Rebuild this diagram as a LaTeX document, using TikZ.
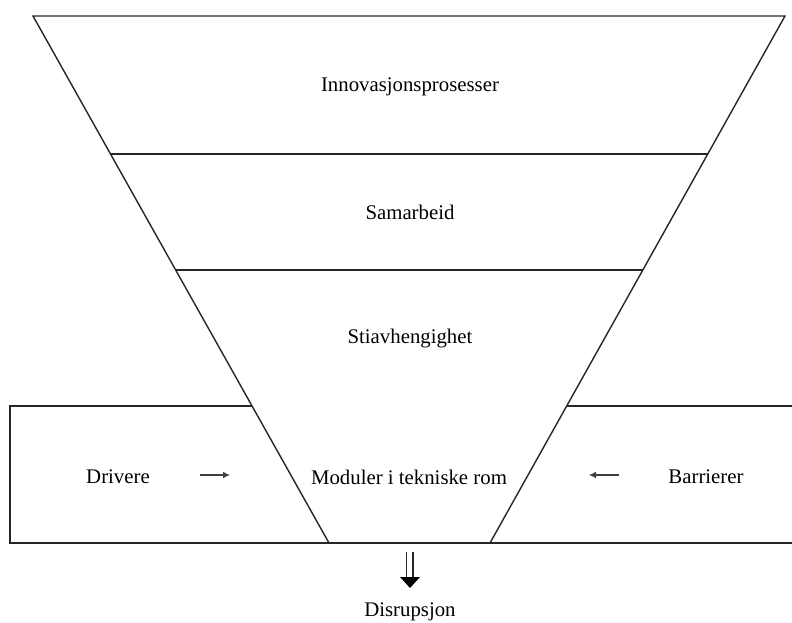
\documentclass[tikz,border=0pt]{standalone}
\usepackage{fontspec}
\setmainfont{Liberation Serif}
\usetikzlibrary{arrows.meta}
\begin{document}
\begin{tikzpicture}[x=1pt,y=-1pt,
  line/.style={draw=black!85, line width=1.4pt},
  lbl/.style={font=\fontsize{20.8}{24}\selectfont, inner sep=0pt},
  small/.style={draw=black!75, line width=1.3pt, -{Latex[length=7pt,width=7pt]}}]
\useasboundingbox (0,0) rectangle (792,623);
% funnel corners
\coordinate (TL) at (33,16);
\coordinate (TR) at (785,16);
\coordinate (BL) at (329,543);
\coordinate (BR) at (490,543);
\path (TL) -- (BL) coordinate[pos=0.26186] (L1) coordinate[pos=0.48197] (L2);
\path (TR) -- (BR) coordinate[pos=0.26186] (R1) coordinate[pos=0.48197] (R2);
% outer box
\draw[line] (10,406) rectangle (800,543);
% funnel
\draw[line, fill=white] (TL) -- (TR) -- (BR) -- (BL) -- cycle;
\draw[line] (L1) -- (R1);
\draw[line] (L2) -- (R2);
\draw[line] (BL) -- (BR);
% labels
\node[lbl] (inn) at (410,87) {Innovasjonsprosesser};
\node[lbl] (sam) at (410,212) {Samarbeid};
\node[lbl] (sti) at (410,339) {Stiavhengighet};
\node[lbl] (mod) at (409,477) {Moduler i tekniske rom};
\node[lbl] (dri) at (118,477) {Drivere};
\node[lbl] (bar) at (706,477) {Barrierer};
\node[lbl] (dis) at (410,612) {Disrupsjon};
% small arrows
\coordinate (a1s) at (200,475);
\coordinate (a1e) at (230,475);
\coordinate (a2s) at (619,475);
\coordinate (a2e) at (589,475);
\draw[small] (a1s) -- (a1e);
\draw[small] (a2s) -- (a2e);
% double arrow
\coordinate (dtop) at (410,552);
\coordinate (dtip) at (410,588);
\draw[draw=black!85, line width=1.3pt] (406.8,552) -- (406.8,578);
\draw[draw=black!85, line width=1.3pt] (413.0,552) -- (413.0,578);
\fill[black] (400,577) -- (420,577) -- (dtip) -- cycle;
\end{tikzpicture}
\end{document}
